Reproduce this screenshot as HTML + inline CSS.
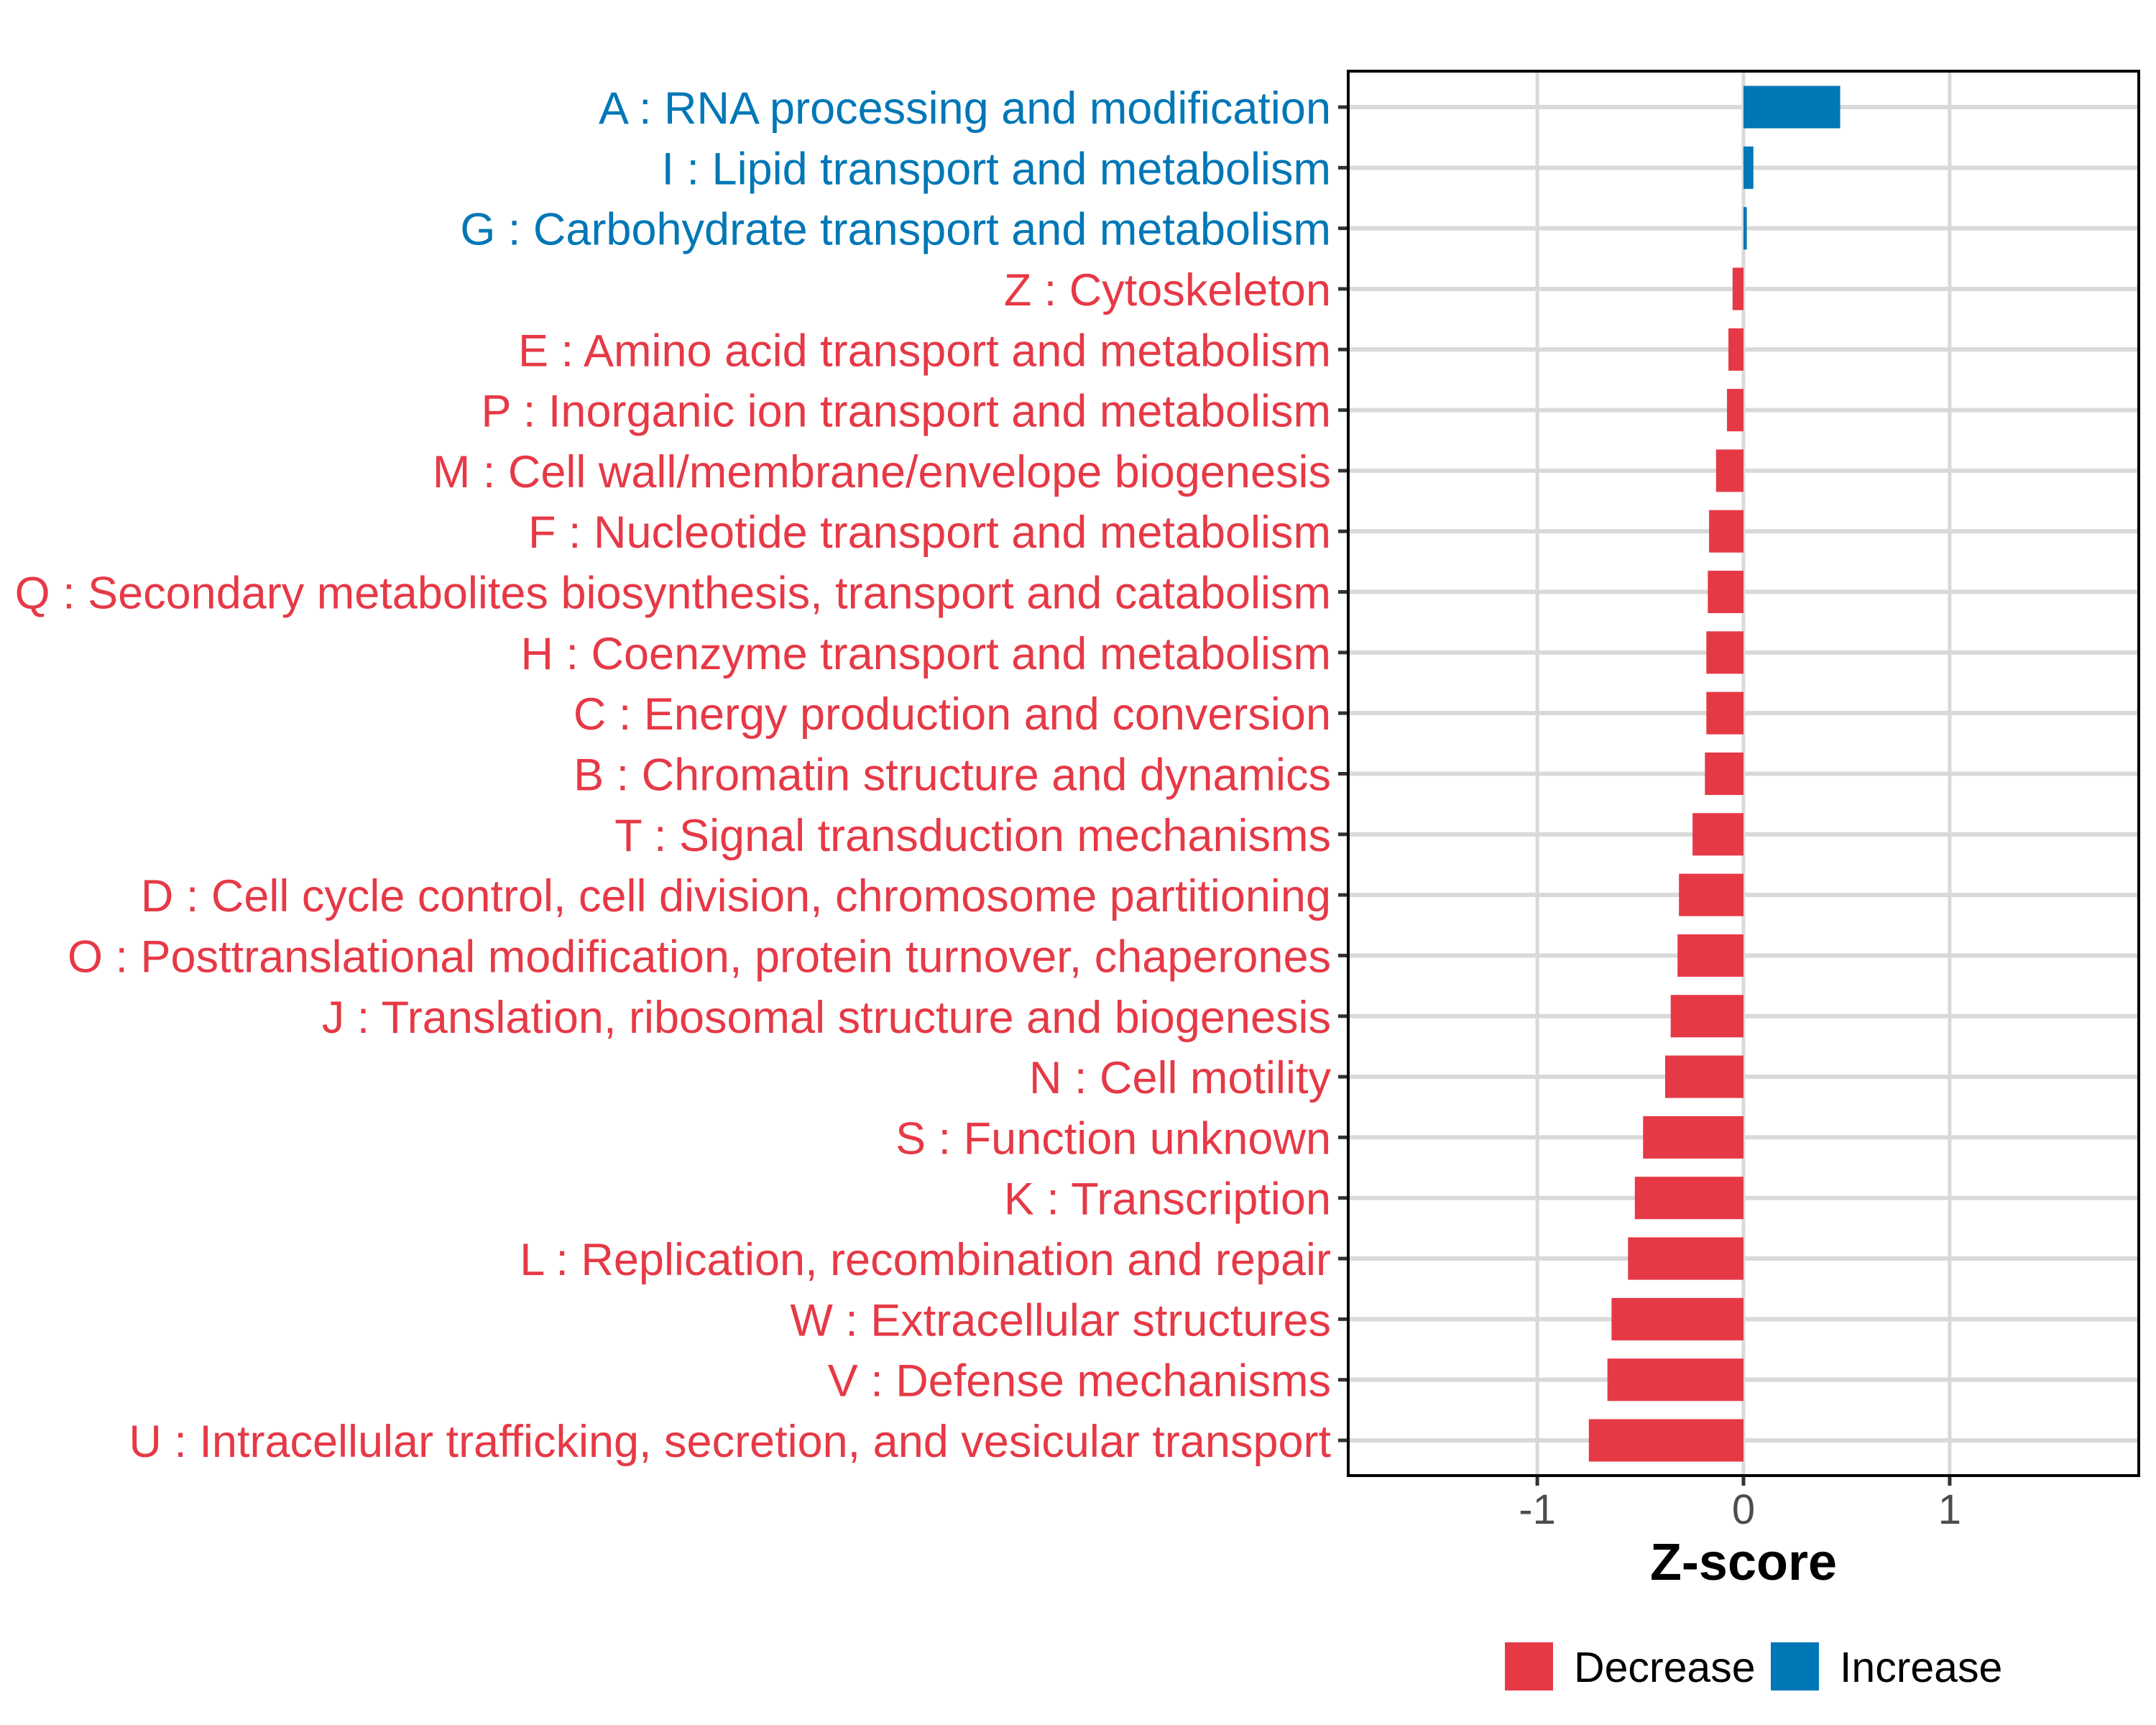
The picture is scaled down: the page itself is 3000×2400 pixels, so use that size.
<!DOCTYPE html>
<html><head><meta charset="utf-8"><style>
html,body{margin:0;padding:0;background:#fff;}
svg{display:block;}
text{font-family:"Liberation Sans",Arial,sans-serif;}
</style></head><body>
<svg id="chart" width="3000" height="2400" viewBox="0 0 3000 2400" xmlns="http://www.w3.org/2000/svg">
<rect x="0" y="0" width="3000" height="2400" fill="#fff"/>
<g id="grid"></g>
<g id="bars"></g>
<g id="ylabels"></g>
<g id="xaxis"></g>
<rect x="1876" y="99" width="1100" height="1954" fill="none" stroke="#000" stroke-width="4"/>
<text x="2426" y="2198" font-size="72" font-weight="bold" text-anchor="middle" fill="#000">Z-score</text>
<g>
<rect x="2094" y="2285" width="67" height="67" fill="#E63946"/>
<text x="2190" y="2340" font-size="59" fill="#000">Decrease</text>
<rect x="2464" y="2285" width="67" height="67" fill="#0077B6"/>
<text x="2560" y="2340" font-size="59" fill="#000">Increase</text>
</g>
</svg>
<script>
const categories = [
"A : RNA processing and modification",
"I : Lipid transport and metabolism",
"G : Carbohydrate transport and metabolism",
"Z : Cytoskeleton",
"E : Amino acid transport and metabolism",
"P : Inorganic ion transport and metabolism",
"M : Cell wall/membrane/envelope biogenesis",
"F : Nucleotide transport and metabolism",
"Q : Secondary metabolites biosynthesis, transport and catabolism",
"H : Coenzyme transport and metabolism",
"C : Energy production and conversion",
"B : Chromatin structure and dynamics",
"T : Signal transduction mechanisms",
"D : Cell cycle control, cell division, chromosome partitioning",
"O : Posttranslational modification, protein turnover, chaperones",
"J : Translation, ribosomal structure and biogenesis",
"N : Cell motility",
"S : Function unknown",
"K : Transcription",
"L : Replication, recombination and repair",
"W : Extracellular structures",
"V : Defense mechanisms",
"U : Intracellular trafficking, secretion, and vesicular transport"
];
const zscores = [0.469,0.048,0.016,-0.053,-0.073,-0.08,-0.133,-0.167,-0.173,-0.18,-0.18,-0.187,-0.247,-0.313,-0.32,-0.353,-0.38,-0.487,-0.527,-0.56,-0.64,-0.66,-0.75];
const xTicks = [-1,0,1];
const xTickLabels = ["-1","0","1"];

const NS="http://www.w3.org/2000/svg";
const panel={left:1876,right:2976,top:99,bottom:2053};
const xMin=-1.917,xMax=1.917;
function xScale(v){return panel.left+(v-xMin)/(xMax-xMin)*(panel.right-panel.left);}
const rowStep=(2004-149)/(categories.length-1);
function yScale(i){return 149+i*rowStep;}
const barH=rowStep*0.7;
function mk(tag,attrs,parent){const e=document.createElementNS(NS,tag);for(const k in attrs)e.setAttribute(k,attrs[k]);parent.appendChild(e);return e;}
const grid=document.getElementById('grid');
xTicks.forEach(t=>{
  const l=mk('line',{x1:xScale(t),x2:xScale(t),y1:panel.top,y2:panel.bottom,stroke:'#d9d9d9','stroke-width':5},grid);
  
  
});
categories.forEach((c,i)=>{
  const l=mk('line',{x1:panel.left,x2:panel.right,y1:yScale(i),y2:yScale(i),stroke:'#d9d9d9','stroke-width':6},grid);
  
  
});
const bars=document.getElementById('bars');
const ylab=document.getElementById('ylabels');
categories.forEach((c,i)=>{
  const v=zscores[i];
  const col=v>=0?'#0077B6':'#E63946';
  const x0=xScale(0),x1=xScale(v);
  const r=mk('rect',{x:Math.min(x0,x1),y:yScale(i)-barH/2,width:Math.max(1,Math.abs(x1-x0)),height:barH,fill:col},bars);
  
  
  const tk=mk('line',{x1:1862,x2:panel.left,y1:yScale(i),y2:yScale(i),stroke:'#333','stroke-width':5},ylab);
  
  
  const t=mk('text',{x:1852,y:yScale(i)+23,'font-size':63,'text-anchor':'end',fill:col},ylab);
  t.textContent=c;
  
  
});
const xa=document.getElementById('xaxis');
xTicks.forEach((t,i)=>{
  const tk=mk('line',{x1:xScale(t),x2:xScale(t),y1:panel.bottom,y2:panel.bottom+14,stroke:'#333','stroke-width':5},xa);
  
  
  const tx=mk('text',{x:xScale(t),y:2120,'font-size':58,'text-anchor':'middle',fill:'#4d4d4d'},xa);
  tx.textContent=xTickLabels[i];
  
  
});
</script>
</body></html>
